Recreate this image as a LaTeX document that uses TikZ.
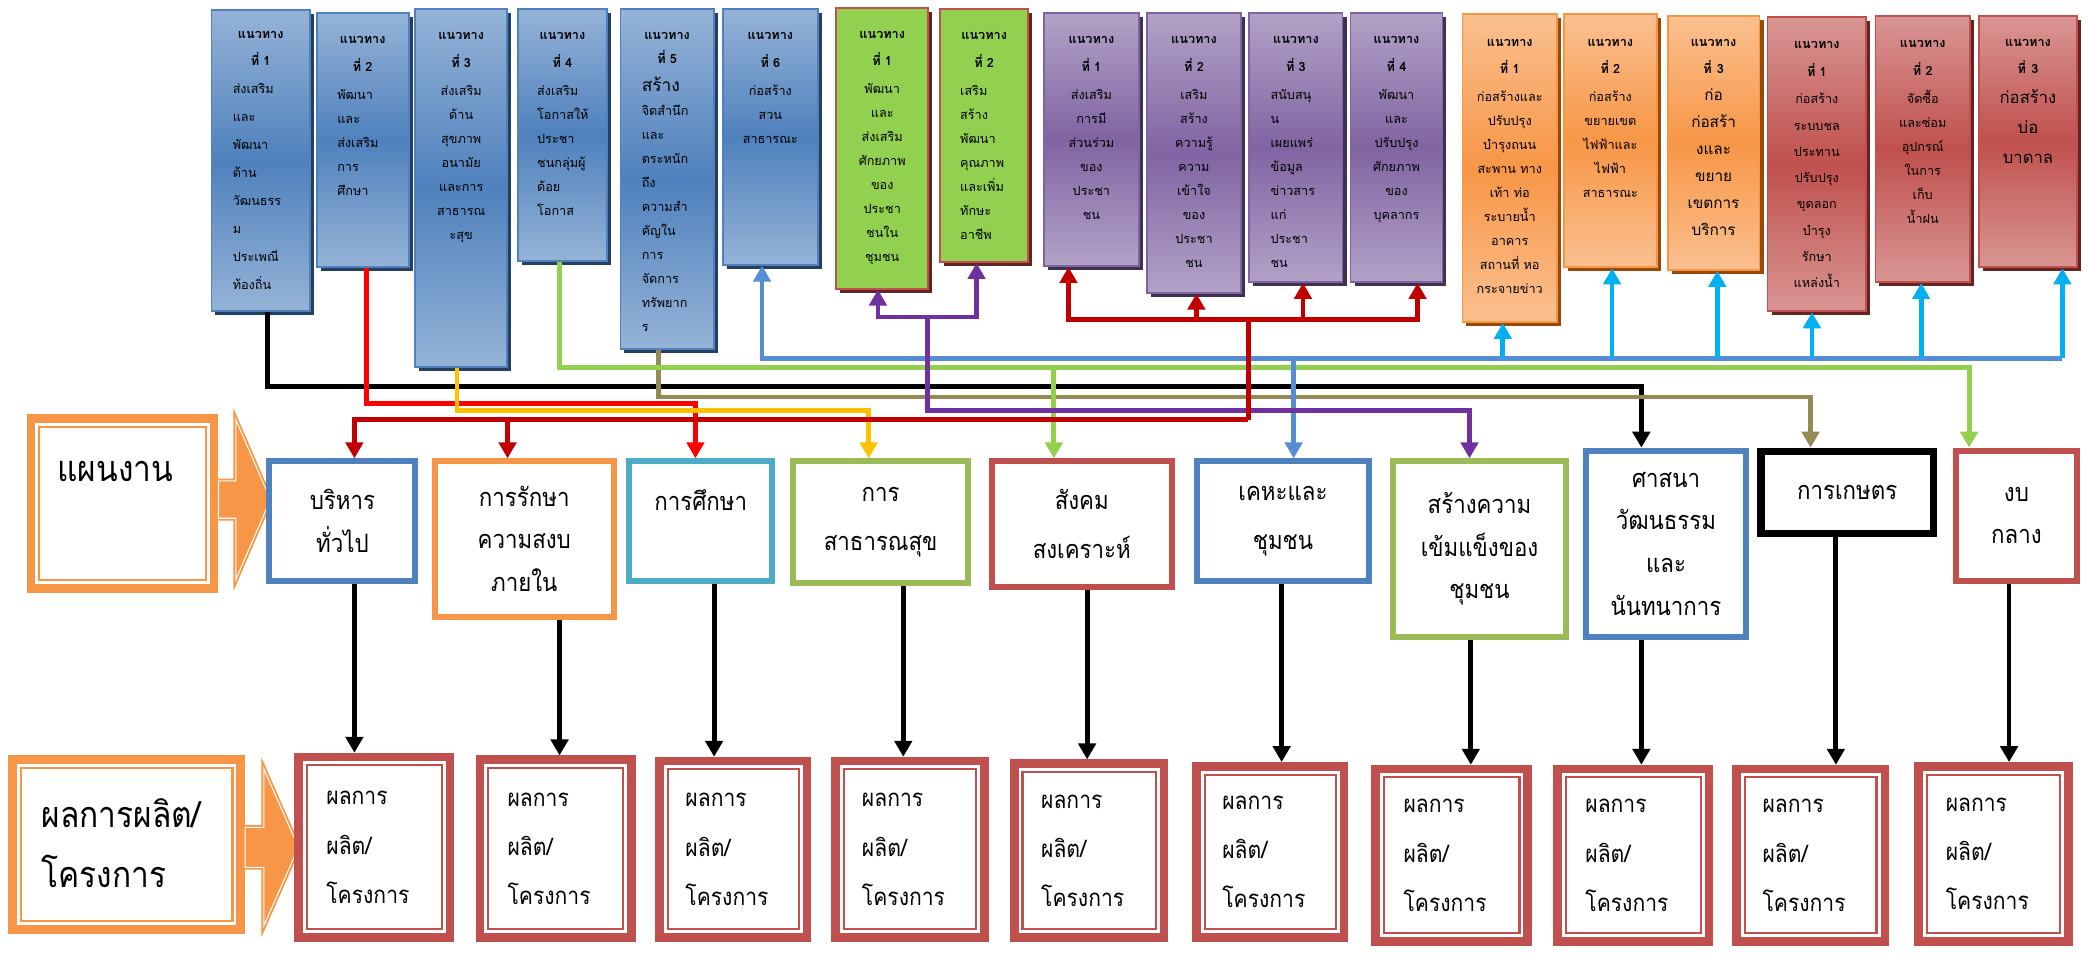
\documentclass[tikz,border=0pt]{standalone}
\usepackage{fontspec}
\setmainfont[Script=Thai]{Loma}
\newfontfamily\thaitall[Script=Thai,FakeStretch=0.88]{Loma}
\usetikzlibrary{arrows.meta,shadows}

\definecolor{bluhi}{HTML}{95B3D7}
\definecolor{blulo}{HTML}{4F81BD}
\definecolor{blushd}{HTML}{243F60}
\definecolor{grnfill}{HTML}{92D050}
\definecolor{purhi}{HTML}{B3A2C7}
\definecolor{purlo}{HTML}{8064A2}
\definecolor{purshd}{HTML}{3F3151}
\definecolor{orghi}{HTML}{FAC090}
\definecolor{orglo}{HTML}{F79646}
\definecolor{orgshd}{HTML}{984807}
\definecolor{redhi}{HTML}{D99694}
\definecolor{redlo}{HTML}{C0504D}
\definecolor{redshd}{HTML}{632523}
\definecolor{tealline}{HTML}{4BACC6}
\definecolor{grnline}{HTML}{9BBB59}
\definecolor{cred}{HTML}{FF0000}
\definecolor{cgold}{HTML}{FFC000}
\definecolor{cdred}{HTML}{C00000}
\definecolor{clime}{HTML}{92D050}
\definecolor{colive}{HTML}{948A54}
\definecolor{cblue}{HTML}{558ED5}
\definecolor{ccyan}{HTML}{00B0F0}
\definecolor{cpurple}{HTML}{7030A0}

\newcommand{\hd}[1]{\makebox[\hsize]{\fontsize{9.5}{18}\bfseries\selectfont #1}}

\tikzset{
  >={Triangle[length=12pt,width=13pt]},
  wire/.style={line width=3.6pt},
  topbox/.style={draw=#1, line width=1.4pt, anchor=north west, inner sep=0pt},
  blubox/.style={topbox=blulo, top color=bluhi, bottom color=bluhi, middle color=blulo,
    general shadow={fill=blushd, shadow xshift=3pt, shadow yshift=-3pt}},
  grnbox/.style={topbox=redlo, fill=grnfill,
    general shadow={fill=redshd, shadow xshift=3pt, shadow yshift=-3pt}},
  purbox/.style={topbox=purlo, top color=purhi, bottom color=purhi, middle color=purlo,
    general shadow={fill=purshd, shadow xshift=3pt, shadow yshift=-3pt}},
  orgbox/.style={topbox=orglo, top color=orghi, bottom color=orghi, middle color=orglo,
    general shadow={fill=orgshd, shadow xshift=3pt, shadow yshift=-3pt}},
  redbox/.style={topbox=redlo, top color=redhi, bottom color=redhi, middle color=redlo,
    general shadow={fill=redshd, shadow xshift=3pt, shadow yshift=-3pt}},
  ctext/.style={anchor=north, inner sep=0pt, text width=#1, align=center,
    font=\fontsize{9.5}{18}\selectfont},
  ltext/.style={ctext=#1, align=left},
  midbox/.style={draw=#1, line width=4.5pt, anchor=north west, inner sep=0pt, fill=white,
    align=center, font=\thaitall\fontsize{19}{32}\selectfont},
  loose/.style={font=\thaitall\fontsize{19}{37}\selectfont},
  outbox/.style={draw=redlo, line width=6.5pt, anchor=north west, inner sep=0pt,
    text width=72pt, align=left, font=\thaitall\fontsize{18}{37}\selectfont},
  dblbox/.style={draw=#1, line width=6.6pt, anchor=north west, inner sep=0pt},
  inline/.style={draw=#1, line width=1.6pt},
  bigarrow/.style={fill=orglo, draw=orglo, double=white, double distance=0.8pt, line width=1.4pt},
  bigtext/.style={inner sep=0pt, align=left, font=\thaitall\fontsize{27}{45}\selectfont}
}

\begin{document}
\begin{tikzpicture}[x=1pt, y=-1pt]
  \useasboundingbox (0,0) rectangle (1568,716);

  \node[blubox, minimum width=74pt, minimum height=226pt] (bl1) at (158,7) {};
  \node[blubox, minimum width=69pt, minimum height=191pt] (bl2) at (237,9) {};
  \node[blubox, minimum width=69pt, minimum height=269pt] (bl3) at (311,6) {};
  \node[blubox, minimum width=67pt, minimum height=189pt] (bl4) at (388,6) {};
  \node[blubox, minimum width=70pt, minimum height=255pt] (bl5) at (465,6) {};
  \node[blubox, minimum width=71pt, minimum height=192pt] (bl6) at (542,6) {};
  \node[grnbox, minimum width=69pt, minimum height=211pt] (gr1) at (627,5) {};
  \node[grnbox, minimum width=66pt, minimum height=190pt] (gr2) at (705,6) {};
  \node[purbox, minimum width=71pt, minimum height=190pt] (pu1) at (783,9) {};
  \node[purbox, minimum width=71pt, minimum height=210pt] (pu2) at (860,9) {};
  \node[purbox, minimum width=70pt, minimum height=202pt] (pu3) at (937,9) {};
  \node[purbox, minimum width=69pt, minimum height=202pt] (pu4) at (1013,9) {};
  \node[orgbox, minimum width=71pt, minimum height=231pt] (or1) at (1097,10) {};
  \node[orgbox, minimum width=70pt, minimum height=190pt] (or2) at (1173,10) {};
  \node[orgbox, minimum width=69pt, minimum height=191pt] (or3) at (1251,11) {};
  \node[redbox, minimum width=74pt, minimum height=221pt] (rd1) at (1326,12) {};
  \node[redbox, minimum width=71pt, minimum height=200pt] (rd2) at (1407,11) {};
  \node[redbox, minimum width=73pt, minimum height=189pt] (rd3) at (1485,11) {};

  \node[ltext=42pt, font=\fontsize{9.5}{21}\selectfont] (bl1t) at ([yshift=-16pt]bl1.north)
    {\hd{แนวทาง}\\\hd{ที่ 1}\\ส่งเสริม\\และ\\พัฒนา\\ด้าน\\วัฒนธรร\\ม\\ประเพณี\\ท้องถิ่น};
  \node[ltext=38pt] (bl2t) at ([yshift=-18pt]bl2.north)
    {\hd{แนวทาง}\\[3pt]\hd{ที่ 2}\\[3pt]พัฒนา\\และ\\ส่งเสริม\\การ\\ศึกษา};
  \node[ctext=61pt] (bl3t) at ([yshift=-18pt]bl3.north)
    {\hd{แนวทาง}\\[3pt]\hd{ที่ 3}\\[3pt]ส่งเสริม\\ด้าน\\สุขภาพ\\อนามัย\\และการ\\สาธารณ\\ะสุข};
  \node[ltext=38pt] (bl4t) at ([yshift=-18pt]bl4.north)
    {\hd{แนวทาง}\\[3pt]\hd{ที่ 4}\\[3pt]ส่งเสริม\\โอกาสให้\\ประชา\\ชนกลุ่มผู้\\ด้อย\\โอกาส};
  \node[ltext=38pt] (bl5t) at ([yshift=-18pt]bl5.north)
    {\hd{แนวทาง}\\\hd{ที่ 5}\\[3pt]{\fontsize{13}{18}\selectfont สร้าง}\\จิตสำนึก\\และ\\ตระหนัก\\ถึง\\ความสำ\\คัญใน\\การ\\จัดการ\\ทรัพยาก\\ร};
  \node[ctext=63pt] (bl6t) at ([yshift=-18pt]bl6.north)
    {\hd{แนวทาง}\\[3pt]\hd{ที่ 6}\\[3pt]ก่อสร้าง\\สวน\\สาธารณะ};
  \node[ctext=61pt] (gr1t) at ([yshift=-18pt]gr1.north)
    {\hd{แนวทาง}\\[3pt]\hd{ที่ 1}\\[3pt]พัฒนา\\และ\\ส่งเสริม\\ศักยภาพ\\ของ\\ประชา\\ชนใน\\ชุมชน};
  \node[ltext=36pt] (gr2t) at ([yshift=-18pt]gr2.north)
    {\hd{แนวทาง}\\[3pt]\hd{ที่ 2}\\[3pt]เสริม\\สร้าง\\พัฒนา\\คุณภาพ\\และเพิ่ม\\ทักษะ\\อาชีพ};
  \node[ctext=63pt] (pu1t) at ([yshift=-18pt]pu1.north)
    {\hd{แนวทาง}\\[3pt]\hd{ที่ 1}\\[3pt]ส่งเสริม\\การมี\\ส่วนร่วม\\ของ\\ประชา\\ชน};
  \node[ctext=63pt] (pu2t) at ([yshift=-18pt]pu2.north)
    {\hd{แนวทาง}\\[3pt]\hd{ที่ 2}\\[3pt]เสริม\\สร้าง\\ความรู้\\ความ\\เข้าใจ\\ของ\\ประชา\\ชน};
  \node[ltext=38pt] (pu3t) at ([yshift=-18pt]pu3.north)
    {\hd{แนวทาง}\\[3pt]\hd{ที่ 3}\\[3pt]สนับสนุ\\น\\เผยแพร่\\ข้อมูล\\ข่าวสาร\\แก่\\ประชา\\ชน};
  \node[ctext=61pt] (pu4t) at ([yshift=-18pt]pu4.north)
    {\hd{แนวทาง}\\[3pt]\hd{ที่ 4}\\[3pt]พัฒนา\\และ\\ปรับปรุง\\ศักยภาพ\\ของ\\บุคลากร};
  \node[ctext=66pt] (or1t) at ([yshift=-19pt]or1.north)
    {\hd{แนวทาง}\\[3pt]\hd{ที่ 1}\\[3pt]ก่อสร้างและ\\ปรับปรุง\\บำรุงถนน\\สะพาน~ทาง\\เท้า~ท่อ\\ระบายน้ำ\\อาคาร\\สถานที่~หอ\\กระจายข่าว};
  \node[ctext=62pt] (or2t) at ([yshift=-19pt]or2.north)
    {\hd{แนวทาง}\\[3pt]\hd{ที่ 2}\\[3pt]ก่อสร้าง\\ขยายเขต\\ไฟฟ้าและ\\ไฟฟ้า\\สาธารณะ};
  \node[ctext=61pt, font=\fontsize{11.5}{20.3}\selectfont] (or3t) at ([yshift=-18pt]or3.north)
    {\hd{แนวทาง}\\\hd{ที่ 3}\\ก่อ\\ก่อสร้า\\งและ\\ขยาย\\เขตการ\\บริการ};
  \node[ctext=66pt, font=\fontsize{9.5}{19.7}\selectfont] (rd1t) at ([yshift=-19pt]rd1.north)
    {\hd{แนวทาง}\\[1pt]\hd{ที่ 1}\\[1pt]ก่อสร้าง\\ระบบชล\\ประทาน\\ปรับปรุง\\ขุดลอก\\บำรุง\\รักษา\\แหล่งน้ำ};
  \node[ctext=63pt] (rd2t) at ([yshift=-19pt]rd2.north)
    {\hd{แนวทาง}\\[3pt]\hd{ที่ 2}\\[3pt]จัดซื้อ\\และซ่อม\\อุปกรณ์\\ในการ\\เก็บ\\น้ำฝน};
  \node[ctext=65pt, font=\fontsize{12.5}{22.5}\selectfont] (rd3t) at ([yshift=-18pt]rd3.north)
    {\hd{แนวทาง}\\[-2pt]\hd{ที่ 3}\\ก่อสร้าง\\บ่อ\\บาดาล};

  \node[dblbox=orglo, minimum width=137.4pt, minimum height=127.4pt] (plan) at (20,311) {};
  \draw[inline=orglo] ([shift={(9.5,9.5)}]plan.north west) rectangle ([shift={(-9.5,-9.5)}]plan.south east);
  \node[bigtext, anchor=west] (plant) at (43,354) {แผนงาน};
  \filldraw[bigarrow] (plan.east |- 0,361) -- (177,361) -- (177,315) -- (203,375) -- (177,435) -- (177,389) -- (plan.east |- 0,389) -- cycle;

  \node[dblbox=orglo, minimum width=171.4pt, minimum height=127.4pt] (prod) at (6,567) {};
  \draw[inline=orglo] ([shift={(9.5,9.5)}]prod.north west) rectangle ([shift={(-9.5,-9.5)}]prod.south east);
  \node[bigtext, anchor=west] (prodt) at (31,633) {ผลการผลิต/\\โครงการ};
  \filldraw[bigarrow] (prod.east |- 0,621) -- (198,621) -- (198,577) -- (224,636) -- (198,695) -- (198,651) -- (prod.east |- 0,651) -- cycle;

  \node[midbox=blulo, minimum width=109.5pt, minimum height=89.5pt] (mid1) at (200,344) {บริหาร\\ทั่วไป};
  \node[midbox=orglo, minimum width=134.5pt, minimum height=116.5pt] (mid2) at (324,344) {การรักษา\\ความสงบ\\ภายใน};
  \node[midbox=tealline, minimum width=107.5pt, minimum height=89.5pt] (mid3) at (470,344) {การศึกษา\\\mbox{}};
  \node[midbox=grnline, loose, minimum width=131.5pt, minimum height=91.5pt] (mid4) at (593,344) {การ\\สาธารณสุข};
  \node[midbox=redlo, loose, minimum width=135.5pt, minimum height=94.5pt] (mid5) at (742,344) {สังคม\\สงเคราะห์};
  \node[midbox=blulo, loose, minimum width=129.5pt, minimum height=89.5pt] (mid6) at (896,344) {เคหะและ\\ชุมชน};
  \node[midbox=grnline, minimum width=130.5pt, minimum height=131.5pt] (mid7) at (1043,344) {สร้างความ\\เข้มแข็งของ\\ชุมชน};
  \node[midbox=blulo, minimum width=120.5pt, minimum height=139.5pt] (mid8) at (1188,336) {ศาสนา\\วัฒนธรรม\\และ\\นันทนาการ};
  \node[midbox=black, line width=5.5pt, minimum width=129.5pt, minimum height=61.5pt] (mid9) at (1319,336) {การเกษตร};
  \node[midbox=redlo, minimum width=90.5pt, minimum height=97.5pt] (mid10) at (1466,336) {งบ\\กลาง};

  \node[outbox, minimum width=113.5pt, minimum height=135.5pt] (out1) at (221,565) {ผลการ\\ผลิต/\\โครงการ};
  \node[outbox, minimum width=113.5pt, minimum height=133.5pt] (out2) at (357,567) {ผลการ\\ผลิต/\\โครงการ};
  \node[outbox, minimum width=110.5pt, minimum height=132.5pt] (out3) at (492,568) {ผลการ\\ผลิต/\\โครงการ};
  \node[outbox, minimum width=111.5pt, minimum height=132.5pt] (out4) at (624,568) {ผลการ\\ผลิต/\\โครงการ};
  \node[outbox, minimum width=112.5pt, minimum height=130.5pt] (out5) at (758,570) {ผลการ\\ผลิต/\\โครงการ};
  \node[outbox, minimum width=110.5pt, minimum height=128.5pt] (out6) at (895,572) {ผลการ\\ผลิต/\\โครงการ};
  \node[outbox, minimum width=114.5pt, minimum height=129.5pt] (out7) at (1029,574) {ผลการ\\ผลิต/\\โครงการ};
  \node[outbox, minimum width=113.5pt, minimum height=129.5pt] (out8) at (1166,574) {ผลการ\\ผลิต/\\โครงการ};
  \node[outbox, minimum width=111.5pt, minimum height=129.5pt] (out9) at (1300,574) {ผลการ\\ผลิต/\\โครงการ};
  \node[outbox, minimum width=112.5pt, minimum height=131.5pt] (out10) at (1437,572) {ผลการ\\ผลิต/\\โครงการ};
  \foreach \i in {1,...,10}
    \draw[inline=redlo] ([shift={(9.5,9.5)}]out\i.north west) rectangle ([shift={(-9.5,-9.5)}]out\i.south east);

  \coordinate (redlow) at (937,315);
  \coordinate (redtop) at (937,240);
  \coordinate (purtop) at (696,238);
  \coordinate (bluend) at (1548,269);

  \draw[wire, ->] (bl1.south -| 201,0) |- (1232,290) -- (mid8.north -| 1232,0);
  \draw[wire, colive, ->] (bl5.south -| 494,0) |- (1359,298) -- (mid9.north -| 1359,0);
  \draw[wire, clime, ->] (bl4.south -| 420,0) |- (1478,276) -- (mid10.north -| 1478,0);
  \draw[wire, clime, ->] (791,276) -- (mid5.north -| 791,0);
  \draw[wire, cblue, <-] (bl6.south -| 572,0) |- (bluend);
  \draw[wire, cblue, ->] (971,269) -- (mid6.north -| 971,0);
  \draw[wire, ccyan, ->] (1128,269) -- (or1.south -| 1128,0);
  \draw[wire, ccyan, ->] (1210,269) -- (or2.south -| 1210,0);
  \draw[wire, ccyan, ->] (1289,269) -- (or3.south -| 1289,0);
  \draw[wire, ccyan, ->] (1360,269) -- (rd1.south -| 1360,0);
  \draw[wire, ccyan, ->] (1442,269) -- (rd2.south -| 1442,0);
  \draw[wire, ccyan, ->] (bluend) -- (rd3.south -| 1548,0);
  \draw[wire, cpurple, <->] (gr1.south -| 659,0) |- (733,238) -- (gr2.south -| 733,0);
  \draw[wire, cpurple, ->] (purtop) |- (1103,308) -- (mid7.north -| 1103,0);
  \draw[wire, cred, ->] (bl2.south -| 275,0) |- (522,303) -- (mid3.north -| 522,0);
  \draw[wire, cgold, ->] (bl3.south -| 343,0) |- (652,308) -- (mid4.north -| 652,0);
  \draw[wire, cdred, ->] (redlow) -| (mid1.north -| 266,0);
  \draw[wire, cdred, ->] (381,315) -- (mid2.north -| 381,0);
  \draw[wire, cdred] (redlow) -- (redtop);
  \draw[wire, cdred, ->] (redtop) -| (pu1.south -| 802,0);
  \draw[wire, cdred, ->] (redtop) -| (pu4.south -| 1064,0);
  \draw[wire, cdred, ->] (898,240) -- (pu2.south -| 898,0);
  \draw[wire, cdred, ->] (978,240) -- (pu3.south -| 978,0);

  \draw[wire, ->] (mid1.south -| 266,0) -- (out1.north -| 266,0);
  \draw[wire, ->] (mid2.south -| 420,0) -- (out2.north -| 420,0);
  \draw[wire, ->] (mid3.south -| 536,0) -- (out3.north -| 536,0);
  \draw[wire, ->] (mid4.south -| 678,0) -- (out4.north -| 678,0);
  \draw[wire, ->] (mid5.south -| 816,0) -- (out5.north -| 816,0);
  \draw[wire, ->] (mid6.south -| 962,0) -- (out6.north -| 962,0);
  \draw[wire, ->] (mid7.south -| 1104,0) -- (out7.north -| 1104,0);
  \draw[wire, ->] (mid8.south -| 1232,0) -- (out8.north -| 1232,0);
  \draw[wire, ->] (mid9.south -| 1378,0) -- (out9.north -| 1378,0);
  \draw[wire, ->] (mid10.south -| 1508,0) -- (out10.north -| 1508,0);
\end{tikzpicture}
\end{document}
